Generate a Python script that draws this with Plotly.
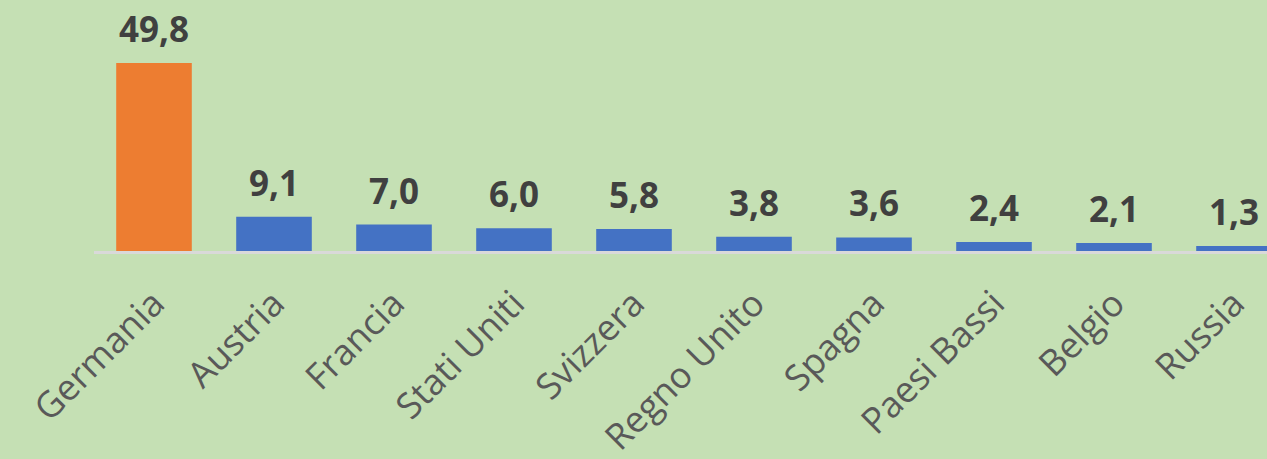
import plotly.graph_objects as go

countries = ["Germania", "Austria", "Francia", "Stati Uniti", "Svizzera",
             "Regno Unito", "Spagna", "Paesi Bassi", "Belgio", "Russia"]
values = [49.8, 9.1, 7.0, 6.0, 5.8, 3.8, 3.6, 2.4, 2.1, 1.3]
bar_colors = ["#ED7D31"] + ["#4472C4"] * 9

labels = [f"{v:.1f}".replace(".", ",") for v in values]

fig = go.Figure()
fig.add_trace(go.Bar(
    x=countries, y=values, marker_color=bar_colors,
    marker_line_width=0, width=0.63, hoverinfo="skip",
))
for c, v, t in zip(countries, values, labels):
    fig.add_annotation(x=c, y=v, text=f"<b>{t}</b>", showarrow=False,
                       yanchor="bottom", yshift=9,
                       font=dict(family="Open Sans", size=35, color="#404040"))

fig.update_layout(
    width=1267, height=459,
    margin=dict(l=94, r=0, t=0, b=208),
    paper_bgcolor="#C5E0B4", plot_bgcolor="#C5E0B4",
    showlegend=False,
    xaxis=dict(range=[-0.5, 9.275], showline=True, linecolor="#D9D9D9", linewidth=3,
               tickangle=-45, ticks="", showgrid=False, ticklabelstandoff=14,
               automargin=False,
               tickfont=dict(family="Open Sans", size=36, color="#595959")),
    yaxis=dict(range=[0, 66.5], visible=False, showgrid=False, zeroline=False,
               automargin=False),
)
fig.write_html("out.html", config={"displayModeBar": False},
               post_script="document.body.style.margin='0';document.body.style.background='#C5E0B4';")
